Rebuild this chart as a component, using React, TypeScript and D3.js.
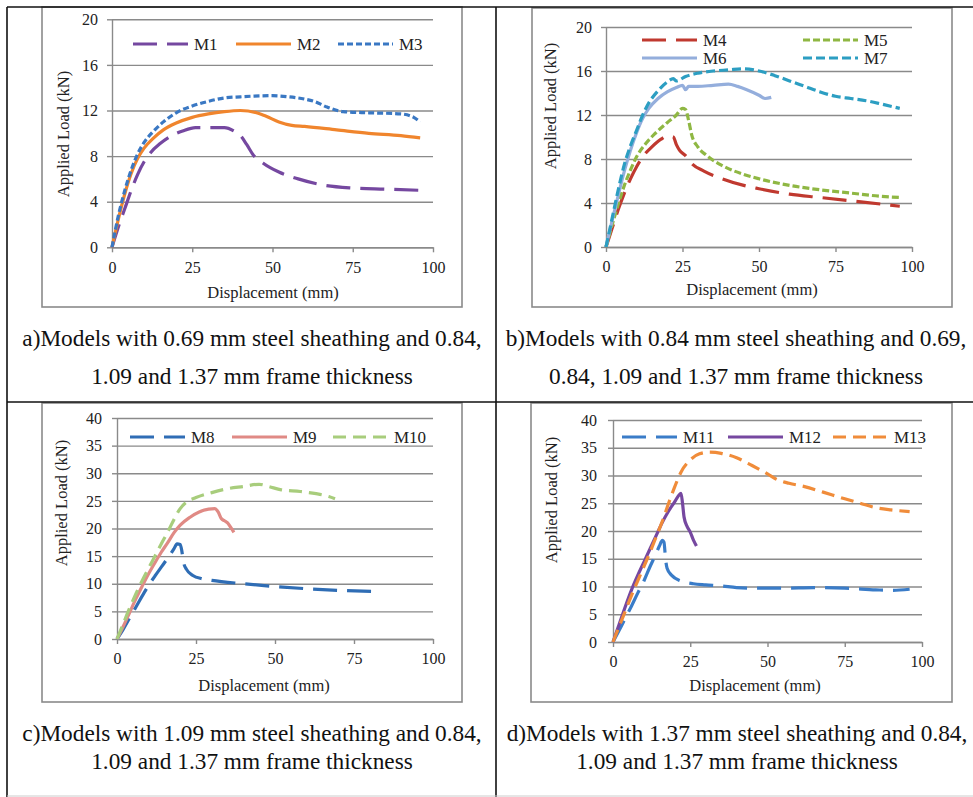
import React, { useRef, useEffect } from 'react';
import * as d3 from 'd3';

type Pt = [number, number];

// x ticks shared by every panel
const xTickValues = [0, 25, 50, 75, 100];
const yTicksLow = [0, 4, 8, 12, 16, 20];
const yTicksHigh = [0, 5, 10, 15, 20, 25, 30, 35, 40];

// panel a: 0.69 mm sheathing
const M1: Pt[] = [[0, 0], [2, 1.8], [4, 3.4], [6, 5], [8, 6.4], [10, 7.5], [12, 8.3], [15, 9.1], [18, 9.7], [22, 10.2], [26, 10.5], [30, 10.5], [35, 10.5], [38, 10.2], [40, 9.8], [42, 9], [44, 8.1], [47, 7.4], [52, 6.6], [58, 6], [65, 5.5], [75, 5.2], [85, 5.1], [96, 5.0]];
const M2: Pt[] = [[0, 0], [2, 2.5], [4, 4.7], [6, 6.5], [8, 7.8], [10, 8.7], [13, 9.6], [16, 10.3], [20, 10.9], [25, 11.4], [30, 11.7], [35, 11.9], [40, 12.0], [45, 11.8], [48, 11.5], [52, 11.0], [56, 10.7], [60, 10.6], [70, 10.3], [80, 10.0], [90, 9.8], [96, 9.6]];
const M3: Pt[] = [[0, 0], [2, 2.8], [4, 5], [6, 6.8], [8, 8.2], [10, 9.2], [13, 10.2], [16, 11], [20, 11.8], [25, 12.4], [30, 12.8], [35, 13.1], [40, 13.2], [50, 13.3], [55, 13.2], [60, 13], [63, 12.8], [67, 12.3], [72, 11.9], [80, 11.8], [90, 11.7], [94, 11.4], [96, 11.0]];

// panel b: 0.84 mm sheathing
const M4: Pt[] = [[0, 0], [2, 1.7], [4, 3.4], [6, 4.9], [8, 6.2], [10, 7.3], [12, 8.2], [15, 9.1], [18, 9.8], [20, 10.1], [22, 10], [23, 9.3], [24, 8.8], [26, 8.3], [28, 7.6], [32, 6.9], [38, 6.2], [45, 5.6], [50, 5.3], [60, 4.8], [70, 4.5], [80, 4.2], [90, 3.9], [96, 3.7]];
const M5: Pt[] = [[0, 0], [2, 2], [4, 3.9], [6, 5.6], [8, 7], [10, 8.2], [13, 9.4], [16, 10.3], [20, 11.3], [23, 12], [25, 12.6], [26, 12.5], [27, 11.5], [28, 10.2], [30, 9.1], [33, 8.3], [38, 7.4], [45, 6.6], [50, 6.2], [60, 5.6], [70, 5.2], [80, 4.9], [90, 4.6], [96, 4.5]];
const M6: Pt[] = [[0, 0], [2, 2.4], [4, 4.7], [6, 6.9], [8, 8.8], [10, 10.4], [12, 11.7], [14, 12.6], [17, 13.5], [20, 14.1], [23, 14.5], [25, 14.7], [26, 14.3], [27, 14.6], [30, 14.6], [35, 14.7], [40, 14.8], [43, 14.6], [46, 14.3], [50, 13.8], [52, 13.5], [54, 13.6]];
const M7: Pt[] = [[0, 0], [2, 2.6], [4, 5.2], [6, 7.5], [8, 9.2], [10, 10.6], [12, 12], [14, 13.1], [17, 14.2], [20, 15], [22, 15.3], [23, 15.1], [26, 15.5], [30, 15.8], [35, 16], [40, 16.1], [45, 16.2], [50, 16], [55, 15.6], [60, 15.1], [65, 14.6], [70, 14.1], [75, 13.7], [80, 13.5], [85, 13.3], [90, 13], [96, 12.6]];

// panel c: 1.09 mm sheathing
const M8: Pt[] = [[0, 0], [2, 1.8], [4, 3.8], [6, 5.8], [8, 7.8], [10, 9.7], [12, 11.4], [14, 13], [16, 14.6], [18, 16.3], [19, 17.2], [20, 17.1], [20.5, 16], [21, 14], [22, 12.6], [24, 11.5], [27, 10.9], [30, 10.6], [40, 10], [50, 9.5], [60, 9.1], [70, 8.8], [82, 8.6]];
const M9: Pt[] = [[0, 0], [2, 2.3], [4, 4.8], [6, 7.3], [8, 9.6], [10, 11.8], [12, 13.8], [14, 15.7], [16, 17.4], [18, 19.2], [20, 20.6], [23, 22], [26, 23], [29, 23.5], [31, 23.6], [32, 23], [33, 21.8], [34, 21.4], [35, 21], [36, 20.2], [37, 19.3]];
const M10: Pt[] = [[0, 0], [2, 2.8], [4, 5.6], [6, 8.2], [8, 10.6], [10, 12.8], [12, 15], [14, 17.2], [16, 19.3], [18, 21.6], [20, 23.6], [22, 24.8], [25, 25.6], [30, 26.5], [35, 27.2], [40, 27.6], [45, 28], [48, 27.6], [52, 27], [58, 26.7], [63, 26.3], [67, 25.8], [69, 25.4]];

// panel d: 1.37 mm sheathing
const M11: Pt[] = [[0, 0], [2, 2.1], [4, 4.3], [6, 6.5], [8, 8.8], [10, 11], [12, 13.6], [14, 16], [15, 17.3], [16, 18.3], [16.5, 18], [17, 15], [17.5, 13.3], [19, 12], [22, 11], [26, 10.5], [30, 10.3], [35, 10.1], [40, 9.8], [45, 9.7], [55, 9.7], [65, 9.8], [75, 9.7], [85, 9.4], [90, 9.3], [96, 9.5]];
const M12: Pt[] = [[0, 0], [2, 3.2], [4, 6.4], [6, 9.4], [8, 12], [10, 14.4], [12, 16.8], [14, 19.2], [16, 21.6], [18, 23.6], [20, 25.3], [21, 26.2], [22, 26.8], [22.5, 25], [23, 22.5], [24, 20.8], [25, 19.8], [26, 18.4], [27, 17.3]];
const M13: Pt[] = [[0, 0], [2, 2.8], [4, 5.6], [6, 8.4], [8, 11], [10, 13.6], [12, 16.2], [14, 19], [16, 21.8], [18, 25], [20, 28], [22, 30.6], [25, 32.8], [28, 33.9], [31, 34.2], [35, 34], [40, 33.2], [45, 31.8], [50, 30.3], [53, 29.3], [57, 28.6], [62, 28], [68, 27], [75, 25.8], [80, 25], [85, 24.2], [90, 23.8], [96, 23.5]];

const captionA = ['a)Models with 0.69 mm steel sheathing and 0.84,', '1.09 and 1.37 mm frame thickness'];
const captionB = ['b)Models with 0.84 mm steel sheathing and 0.69,', '0.84, 1.09 and 1.37 mm frame thickness'];
const captionC = ['c)Models with 1.09 mm steel sheathing and 0.84,', '1.09 and 1.37 mm frame thickness'];
const captionD = ['d)Models with 1.37 mm steel sheathing and 0.84,', '1.09 and 1.37 mm frame thickness'];

const FONT = '"Liberation Serif", "Times New Roman", serif';
const LONG = '24,10';

interface Series {
  name: string;
  data: Pt[];
  color: string;
  dash: string | null;
  // legend line start and row
  lx: number;
  ly: number;
}

interface Panel {
  plot: { x0: number; x1: number; yTop: number; yBot: number };
  frame: [number, number, number, number];
  yMax: number;
  yTicks: number[];
  yPad: number;
  xTitle: { x: number; y: number };
  yTitle: { x: number; y: number };
  series: Series[];
  caption: string[];
  capX: number;
  capY: number[];
}

const panels: Panel[] = [
  {
    plot: { x0: 112, x1: 433, yTop: 19.3, yBot: 247.3 },
    frame: [42, 7, 462, 307],
    yMax: 20, yTicks: yTicksLow, yPad: 9,
    xTitle: { x: 273, y: 298 }, yTitle: { x: 69, y: 134 },
    series: [
      { name: 'M1', data: M1, color: '#7548a0', dash: LONG, lx: 133, ly: 44 },
      { name: 'M2', data: M2, color: '#f0852d', dash: null, lx: 236, ly: 44 },
      { name: 'M3', data: M3, color: '#3a78c3', dash: '6,3', lx: 338, ly: 44 },
    ],
    caption: captionA, capX: 252, capY: [346, 384],
  },
  {
    plot: { x0: 606, x1: 912, yTop: 27, yBot: 247 },
    frame: [532, 8, 952, 307],
    yMax: 20, yTicks: yTicksLow, yPad: 9,
    xTitle: { x: 752, y: 295 }, yTitle: { x: 556, y: 106 },
    series: [
      { name: 'M4', data: M4, color: '#c0392f', dash: LONG, lx: 642, ly: 40 },
      { name: 'M5', data: M5, color: '#8fb743', dash: '7,3', lx: 803, ly: 40 },
      { name: 'M6', data: M6, color: '#94aedc', dash: null, lx: 642, ly: 58 },
      { name: 'M7', data: M7, color: '#2c9ec2', dash: '9,4', lx: 803, ly: 58 },
    ],
    caption: captionB, capX: 736, capY: [346, 384],
  },
  {
    plot: { x0: 117, x1: 433, yTop: 418, yBot: 639 },
    frame: [42, 403, 462, 702],
    yMax: 40, yTicks: yTicksHigh, yPad: 10,
    xTitle: { x: 264, y: 691 }, yTitle: { x: 67, y: 503 },
    series: [
      { name: 'M8', data: M8, color: '#2f6db5', dash: LONG, lx: 130, ly: 437 },
      { name: 'M9', data: M9, color: '#e08a85', dash: null, lx: 232, ly: 437 },
      { name: 'M10', data: M10, color: '#a8cd7c', dash: '13,7', lx: 333, ly: 437 },
    ],
    caption: captionC, capX: 252, capY: [741, 769],
  },
  {
    plot: { x0: 613, x1: 922, yTop: 420, yBot: 642 },
    frame: [531, 403, 952, 702],
    yMax: 40, yTicks: yTicksHigh, yPad: 11,
    xTitle: { x: 755, y: 691 }, yTitle: { x: 557, y: 500 },
    series: [
      { name: 'M11', data: M11, color: '#3a7cc8', dash: LONG, lx: 622, ly: 437 },
      { name: 'M12', data: M12, color: '#7648a0', dash: null, lx: 728, ly: 437 },
      { name: 'M13', data: M13, color: '#f08c3a', dash: '13,7', lx: 833, ly: 437 },
    ],
    caption: captionD, capX: 737, capY: [741, 769],
  },
];

const W = 973;
const H = 797;

const Chart: React.FC = () => {
  const svgRef = useRef<SVGSVGElement | null>(null);

  useEffect(() => {
    if (!svgRef.current) return;
    const svg = d3.select(svgRef.current);
    svg.selectAll('*').remove();

    svg.append('rect').attr('width', W).attr('height', H).attr('fill', '#ffffff');

    panels.forEach(p => {
      const g = svg.append('g');
      const [fx0, fy0, fx1, fy1] = p.frame;

      // chart frame
      g.append('rect')
        .attr('x', fx0).attr('y', fy0)
        .attr('width', fx1 - fx0).attr('height', fy1 - fy0)
        .attr('fill', '#ffffff')
        .attr('stroke', '#8a8a8a')
        .attr('stroke-width', 1.6);

      const x = d3.scaleLinear().domain([0, 100]).range([p.plot.x0, p.plot.x1]);
      const y = d3.scaleLinear().domain([0, p.yMax]).range([p.plot.yBot, p.plot.yTop]);
      const plotW = p.plot.x1 - p.plot.x0;

      // gridlines
      g.append('g')
        .attr('transform', `translate(${p.plot.x0},0)`)
        .call(d3.axisLeft(y).tickValues(p.yTicks).tickSize(-plotW).tickFormat(() => ''))
        .call(s => s.select('.domain').remove())
        .call(s => s.selectAll('.tick line').attr('stroke', '#8a8a8a').attr('stroke-width', 1.4));

      // y axis
      g.append('g')
        .attr('transform', `translate(${p.plot.x0},0)`)
        .call(d3.axisLeft(y).tickValues(p.yTicks).tickSize(5).tickSizeOuter(0).tickPadding(p.yPad))
        .call(s => s.select('.domain').attr('stroke', '#8a8a8a').attr('stroke-width', 1.4))
        .call(s => s.selectAll('.tick line').attr('stroke', '#8a8a8a').attr('stroke-width', 1.4))
        .call(s => s.selectAll('text').attr('font-family', FONT).attr('font-size', 16).attr('fill', '#222'));

      // x axis
      g.append('g')
        .attr('transform', `translate(0,${p.plot.yBot})`)
        .call(d3.axisBottom(x).tickValues(xTickValues).tickSize(5).tickSizeOuter(0).tickPadding(9))
        .call(s => s.select('.domain').attr('stroke', '#8a8a8a').attr('stroke-width', 1.4))
        .call(s => s.selectAll('.tick line').attr('stroke', '#8a8a8a').attr('stroke-width', 1.4))
        .call(s => s.selectAll('text').attr('font-family', FONT).attr('font-size', 16).attr('fill', '#222'));

      // axis titles
      g.append('text')
        .attr('x', p.xTitle.x).attr('y', p.xTitle.y)
        .attr('text-anchor', 'middle')
        .attr('font-family', FONT).attr('font-size', 16.5).attr('fill', '#222')
        .text('Displacement (mm)');

      g.append('text')
        .attr('transform', `translate(${p.yTitle.x},${p.yTitle.y}) rotate(-90)`)
        .attr('text-anchor', 'middle')
        .attr('font-family', FONT).attr('font-size', 16.5).attr('fill', '#222')
        .text('Applied Load (kN)');

      // series
      const line = d3.line<Pt>()
        .x(d => x(d[0]))
        .y(d => y(d[1]))
        .curve(d3.curveMonotoneX);

      p.series.forEach(s => {
        g.append('path')
          .datum(s.data)
          .attr('d', line)
          .attr('fill', 'none')
          .attr('stroke', s.color)
          .attr('stroke-width', 3.2)
          .attr('stroke-dasharray', s.dash ?? null);
      });

      // legend
      p.series.forEach(s => {
        g.append('line')
          .attr('x1', s.lx).attr('x2', s.lx + 55)
          .attr('y1', s.ly).attr('y2', s.ly)
          .attr('stroke', s.color)
          .attr('stroke-width', 3.2)
          .attr('stroke-dasharray', s.dash ?? null);
        g.append('text')
          .attr('x', s.lx + 61).attr('y', s.ly + 6)
          .attr('font-family', FONT).attr('font-size', 17).attr('fill', '#222')
          .text(s.name);
      });

      // caption
      p.caption.forEach((c, i) => {
        svg.append('text')
          .attr('x', p.capX).attr('y', p.capY[i])
          .attr('text-anchor', 'middle')
          .attr('font-family', FONT).attr('font-size', 23.3).attr('fill', '#111')
          .text(c);
      });
    });

    // table rules
    const rules: [number, number, number, number][] = [
      [7, 7, W, 7],
      [7, 402, W, 402],
      [7, 7, 7, H],
      [496, 7, 496, H],
    ];
    svg.selectAll('line.rule')
      .data(rules)
      .join('line')
      .attr('class', 'rule')
      .attr('x1', d => d[0]).attr('y1', d => d[1])
      .attr('x2', d => d[2]).attr('y2', d => d[3])
      .attr('stroke', '#111')
      .attr('stroke-width', 1.6);

    svg.append('line')
      .attr('x1', 7).attr('x2', W).attr('y1', 796).attr('y2', 796)
      .attr('stroke', '#ccc').attr('stroke-width', 1);

    return () => {
      d3.select(svgRef.current).selectAll('*').remove();
    };
  }, []);

  return <svg ref={svgRef} width={W} height={H} style={{ position: 'absolute', left: 0, top: 0 }}></svg>;
};

export default function App() {
  return <Chart />;
}
